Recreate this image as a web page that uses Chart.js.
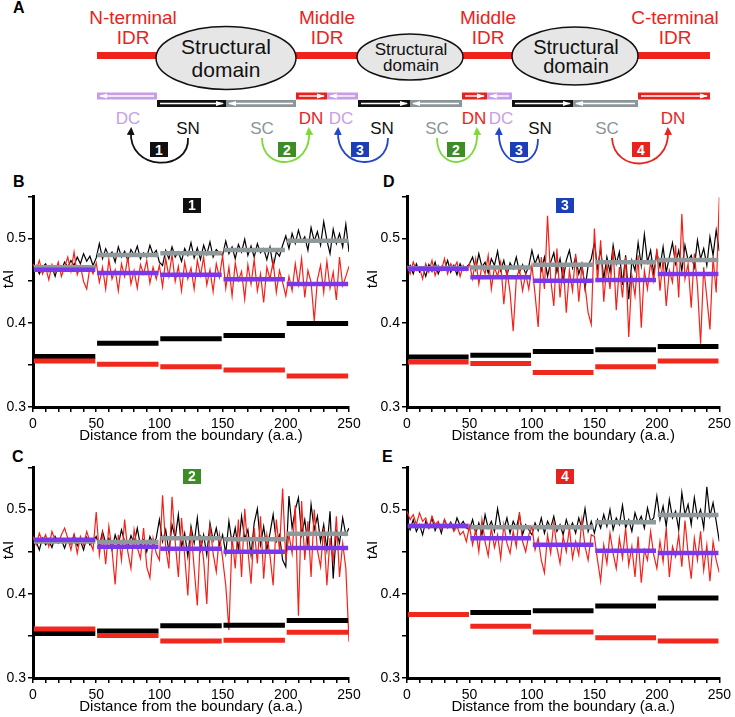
<!DOCTYPE html>
<html>
<head>
<meta charset="utf-8">
<script src="https://cdn.jsdelivr.net/npm/chart.js@4.4.1/dist/chart.umd.min.js"></script>
<style>
body{margin:0;background:#fff;width:735px;height:717px;position:relative;overflow:hidden;font-family:'Liberation Sans',Arial,sans-serif}
.box{position:absolute}
.lbl{position:absolute;font-weight:bold;font-size:16px;line-height:16px}
.badge{position:absolute;width:18px;height:15px;color:#fff;font-weight:bold;font-size:14px;line-height:15px;text-align:center}
.tai{position:absolute;width:30px;height:16px;font-size:15px;line-height:16px;text-align:center;transform:rotate(-90deg)}
svg text{font-family:'Liberation Sans',Arial,sans-serif}
</style>
</head>
<body>
<svg class="box" style="left:0;top:0" width="735" height="180" id="diagram">
  <defs>
    <marker id="hBlack" markerWidth="8" markerHeight="8" refX="4" refY="4" orient="auto" markerUnits="userSpaceOnUse"><path d="M0,0 L8,4 L0,8 z" fill="#111"/></marker>
    <marker id="hGreen" markerWidth="8" markerHeight="8" refX="4" refY="4" orient="auto" markerUnits="userSpaceOnUse"><path d="M0,0 L8,4 L0,8 z" fill="#7fd83c"/></marker>
    <marker id="hBlue" markerWidth="8" markerHeight="8" refX="4" refY="4" orient="auto" markerUnits="userSpaceOnUse"><path d="M0,0 L8,4 L0,8 z" fill="#2446c8"/></marker>
    <marker id="hRed" markerWidth="8" markerHeight="8" refX="4" refY="4" orient="auto" markerUnits="userSpaceOnUse"><path d="M0,0 L8,4 L0,8 z" fill="#e8231d"/></marker>
  </defs>
  <rect x="97" y="52" width="613" height="7" fill="#f0231c"/>
  <ellipse cx="226" cy="58" rx="70" ry="31.5" fill="#e6e6e6" stroke="#111" stroke-width="1.5"/>
  <ellipse cx="410" cy="57" rx="53" ry="23" fill="#e6e6e6" stroke="#111" stroke-width="1.5"/>
  <ellipse cx="575" cy="56" rx="63" ry="29" fill="#e6e6e6" stroke="#111" stroke-width="1.5"/>
  <g fill="#e8231d" font-size="19" text-anchor="middle">
    <text x="133" y="24">N-terminal</text><text x="133" y="44">IDR</text>
    <text x="327" y="24">Middle</text><text x="327" y="44">IDR</text>
    <text x="488" y="24">Middle</text><text x="488" y="44">IDR</text>
    <text x="675" y="24">C-terminal</text><text x="675" y="44">IDR</text>
  </g>
  <g fill="#111" text-anchor="middle">
    <text x="226" y="54" font-size="21">Structural</text><text x="226" y="77" font-size="21">domain</text>
    <text x="411" y="55" font-size="17">Structural</text><text x="411" y="71" font-size="17">domain</text>
    <text x="576" y="54" font-size="20">Structural</text><text x="576" y="73" font-size="20">domain</text>
  </g>
  <g id="segs"></g>
  <g font-size="17" text-anchor="middle">
    <text x="128" y="124" fill="#c89ee6">DC</text>
    <text x="188" y="134" fill="#111">SN</text>
    <text x="262" y="134" fill="#8c9598">SC</text>
    <text x="311" y="124" fill="#e8231d">DN</text>
    <text x="341" y="124" fill="#c89ee6">DC</text>
    <text x="382" y="134" fill="#111">SN</text>
    <text x="437" y="134" fill="#8c9598">SC</text>
    <text x="474" y="124" fill="#e8231d">DN</text>
    <text x="501" y="124" fill="#c89ee6">DC</text>
    <text x="540" y="134" fill="#111">SN</text>
    <text x="607" y="134" fill="#8c9598">SC</text>
    <text x="673" y="124" fill="#e8231d">DN</text>
  </g>
  <g fill="none" stroke-width="1.8">
    <path d="M188,138 C190,172 128,172 131,131" stroke="#111" marker-end="url(#hBlack)"/>
    <path d="M262,138 C262,172 312,170 309,131" stroke="#7fd83c" marker-end="url(#hGreen)"/>
    <path d="M388,138 C388,172 336,170 338,131" stroke="#2446c8" marker-end="url(#hBlue)"/>
    <path d="M437,138 C437,172 480,170 477,131" stroke="#7fd83c" marker-end="url(#hGreen)"/>
    <path d="M538,139 C538,172 497,170 499,131" stroke="#2446c8" marker-end="url(#hBlue)"/>
    <path d="M612,138 C614,174 670,172 668,131" stroke="#e8231d" marker-end="url(#hRed)"/>
  </g>
  <g font-size="14" font-weight="bold" fill="#fff" text-anchor="middle">
    <rect x="150" y="142" width="18" height="15" fill="#111"/><text x="159" y="155">1</text>
    <rect x="278" y="142" width="18" height="15" fill="#3d8c26"/><text x="287" y="155">2</text>
    <rect x="351" y="142" width="18" height="15" fill="#1c3fb8"/><text x="360" y="155">3</text>
    <rect x="447" y="142" width="18" height="15" fill="#3d8c26"/><text x="456" y="155">2</text>
    <rect x="510" y="142" width="18" height="15" fill="#1c3fb8"/><text x="519" y="155">3</text>
    <rect x="632" y="142" width="18" height="15" fill="#e8231d"/><text x="641" y="155">4</text>
  </g>
</svg>

<div class="lbl" style="left:13px;top:0px">A</div>
<div class="lbl" style="left:13px;top:174px">B</div>
<div class="lbl" style="left:383px;top:174px">D</div>
<div class="lbl" style="left:12px;top:449px">C</div>
<div class="lbl" style="left:382px;top:449px">E</div>

<div class="box" style="left:0;top:186px"><canvas id="chartB" width="365" height="259"></canvas></div>
<div class="box" style="left:374px;top:186px"><canvas id="chartD" width="361" height="259"></canvas></div>
<div class="box" style="left:0;top:457px"><canvas id="chartC" width="365" height="259"></canvas></div>
<div class="box" style="left:374px;top:457px"><canvas id="chartE" width="361" height="259"></canvas></div>

<div class="tai" style="left:-7px;top:271px">tAI</div>
<div class="tai" style="left:357px;top:271px">tAI</div>
<div class="tai" style="left:-7px;top:542px">tAI</div>
<div class="tai" style="left:357px;top:542px">tAI</div>

<div class="badge" style="left:183px;top:198px;background:#111">1</div>
<div class="badge" style="left:556px;top:198px;background:#1c3fb8">3</div>
<div class="badge" style="left:183px;top:469px;background:#3d8c26">2</div>
<div class="badge" style="left:556px;top:469px;background:#e8231d">4</div>

<script>
// sample positions along the sequence (a.a.) and the 50 a.a. windows
const distance = Array.from({length: 101}, (_, i) => i * 2.5);
const windowStart = [0, 50, 100, 150, 200];

// panel B (type 1)
const bBlack = [
0.462,0.468,0.458,0.466,0.470,0.461,0.467,0.455,0.469,0.463,0.472,0.466,0.474,0.468,0.478,0.470,0.482,0.473,0.479,0.468,
0.477,0.494,0.476,0.488,0.479,0.484,0.472,0.490,0.478,0.485,0.474,0.487,0.480,0.491,0.476,0.483,0.478,0.492,0.481,0.486,
0.472,0.468,0.486,0.476,0.490,0.478,0.484,0.473,0.488,0.480,0.495,0.477,0.489,0.475,0.492,0.481,0.496,0.478,0.487,0.483,
0.480,0.497,0.482,0.490,0.476,0.493,0.484,0.499,0.480,0.491,0.478,0.494,0.483,0.488,0.475,0.490,0.466,0.484,0.479,0.492,
0.503,0.488,0.506,0.494,0.510,0.496,0.502,0.486,0.513,0.497,0.508,0.492,0.520,0.498,0.482,0.511,0.494,0.506,0.490,0.517,
0.484];
const bRed = [
0.470,0.462,0.474,0.458,0.466,0.451,0.469,0.460,0.472,0.455,0.466,0.478,0.461,0.484,0.457,0.468,0.449,0.440,0.466,0.458,
0.471,0.448,0.466,0.440,0.475,0.452,0.463,0.438,0.470,0.455,0.478,0.446,0.462,0.441,0.469,0.458,0.474,0.447,0.466,0.452,
0.468,0.443,0.476,0.455,0.481,0.449,0.467,0.438,0.472,0.452,0.465,0.440,0.474,0.456,0.478,0.445,0.463,0.437,0.470,0.454,
0.480,0.441,0.466,0.432,0.471,0.450,0.461,0.428,0.469,0.446,0.475,0.438,0.458,0.424,0.466,0.452,0.473,0.436,0.462,0.448,
0.432,0.455,0.438,0.470,0.445,0.476,0.430,0.462,0.448,0.402,0.451,0.468,0.436,0.473,0.441,0.460,0.427,0.478,0.444,0.455,
0.467];
const bGray = [0.466, 0.4805, 0.4824, 0.4863, 0.4973];
const bPurple = [0.463, 0.459, 0.457, 0.4516, 0.446];
const bBlackBars = [0.360, 0.3758, 0.381, 0.385, 0.399];
const bRedBars = [0.3547, 0.3508, 0.3477, 0.3438, 0.3367];

// panel D (type 3)
const dBlack = [
0.462,0.468,0.458,0.470,0.460,0.466,0.455,0.469,0.461,0.472,0.458,0.467,0.463,0.474,0.460,0.468,0.457,0.470,0.462,0.466,
0.470,0.478,0.463,0.482,0.466,0.472,0.459,0.476,0.468,0.485,0.462,0.474,0.456,0.471,0.464,0.478,0.460,0.469,0.458,0.467,
0.486,0.470,0.480,0.462,0.478,0.455,0.472,0.483,0.460,0.476,0.450,0.474,0.486,0.465,0.478,0.458,0.470,0.440,0.468,0.476,
0.495,0.465,0.488,0.452,0.478,0.460,0.492,0.470,0.484,0.445,0.480,0.428,0.474,0.462,0.495,0.468,0.505,0.472,0.486,0.458,
0.484,0.466,0.490,0.460,0.478,0.495,0.470,0.486,0.462,0.492,0.474,0.480,0.466,0.498,0.476,0.488,0.468,0.502,0.480,0.510,
0.485];
const dRed = [
0.468,0.458,0.472,0.462,0.466,0.452,0.470,0.460,0.474,0.456,0.468,0.462,0.476,0.458,0.470,0.464,0.472,0.455,0.468,0.462,
0.470,0.452,0.476,0.446,0.468,0.458,0.480,0.440,0.466,0.455,0.472,0.422,0.462,0.436,0.390,0.452,0.464,0.438,0.458,0.440,
0.468,0.434,0.395,0.478,0.440,0.527,0.452,0.420,0.488,0.430,0.470,0.412,0.462,0.438,0.482,0.425,0.468,0.444,0.412,0.398,
0.512,0.448,0.498,0.425,0.470,0.440,0.488,0.415,0.466,0.430,0.478,0.383,0.456,0.432,0.480,0.394,0.462,0.440,0.472,0.450,
0.488,0.438,0.476,0.420,0.462,0.448,0.492,0.430,0.529,0.452,0.470,0.418,0.482,0.444,0.375,0.466,0.430,0.392,0.478,0.436,
0.549];
const dGray = [0.4648, 0.4656, 0.4688, 0.4719, 0.4746];
const dPurple = [0.464, 0.4539, 0.450, 0.4508, 0.4578];
const dBlackBars = [0.3594, 0.3613, 0.366, 0.368, 0.3719];
const dRedBars = [0.3535, 0.3516, 0.341, 0.3477, 0.3547];

// panel C (type 2)
const cBlack = [
0.456,0.462,0.452,0.466,0.458,0.463,0.455,0.468,0.460,0.464,0.454,0.466,0.459,0.470,0.457,0.463,0.452,0.467,0.458,0.462,
0.468,0.456,0.474,0.460,0.466,0.452,0.470,0.458,0.476,0.462,0.455,0.469,0.460,0.478,0.457,0.464,0.450,0.468,0.459,0.466,
0.488,0.462,0.476,0.450,0.482,0.466,0.494,0.455,0.472,0.444,0.480,0.460,0.490,0.452,0.470,0.446,0.484,0.463,0.478,0.458,
0.470,0.448,0.486,0.460,0.478,0.452,0.492,0.465,0.476,0.446,0.484,0.501,0.458,0.480,0.452,0.472,0.494,0.462,0.470,0.440,
0.432,0.516,0.478,0.500,0.514,0.470,0.488,0.458,0.506,0.476,0.492,0.462,0.482,0.452,0.498,0.418,0.474,0.460,0.490,0.470,
0.478];
const cRed = [
0.468,0.458,0.472,0.462,0.470,0.456,0.474,0.464,0.460,0.470,0.478,0.466,0.452,0.470,0.448,0.468,0.458,0.474,0.462,0.452,
0.497,0.446,0.472,0.435,0.480,0.452,0.411,0.470,0.440,0.488,0.450,0.430,0.476,0.455,0.442,0.478,0.432,0.419,0.466,0.448,
0.440,0.517,0.455,0.430,0.515,0.462,0.420,0.490,0.445,0.398,0.478,0.430,0.386,0.470,0.440,0.388,0.482,0.448,0.426,0.470,
0.442,0.410,0.357,0.468,0.430,0.488,0.420,0.501,0.452,0.412,0.478,0.436,0.492,0.418,0.470,0.445,0.410,0.488,0.452,0.525,
0.440,0.470,0.448,0.505,0.374,0.510,0.440,0.486,0.420,0.500,0.452,0.432,0.478,0.410,0.466,0.438,0.492,0.420,0.460,0.430,
0.343];
const cGray = [0.462, 0.4613, 0.466, 0.4648, 0.4711];
const cPurple = [0.464, 0.4559, 0.4535, 0.450, 0.4543];
const cBlackBars = [0.3527, 0.3559, 0.3621, 0.3625, 0.3684];
const cRedBars = [0.3582, 0.3504, 0.3438, 0.3449, 0.3543];

// panel E (type 4)
const eBlack = [
0.484,0.476,0.488,0.474,0.482,0.470,0.486,0.478,0.490,0.475,0.484,0.472,0.488,0.479,0.485,0.476,0.490,0.481,0.486,0.478,
0.476,0.488,0.472,0.484,0.470,0.494,0.478,0.486,0.474,0.501,0.480,0.476,0.490,0.472,0.486,0.478,0.494,0.470,0.482,0.476,
0.470,0.484,0.475,0.490,0.472,0.486,0.478,0.492,0.474,0.482,0.470,0.488,0.476,0.484,0.472,0.490,0.478,0.501,0.474,0.486,
0.472,0.488,0.478,0.494,0.480,0.500,0.476,0.490,0.482,0.505,0.478,0.488,0.474,0.496,0.484,0.492,0.478,0.502,0.486,0.490,
0.516,0.488,0.504,0.480,0.512,0.490,0.498,0.476,0.520,0.494,0.506,0.482,0.514,0.490,0.500,0.478,0.527,0.492,0.508,0.486,
0.462];
const eRed = [
0.498,0.488,0.494,0.482,0.496,0.486,0.490,0.478,0.492,0.482,0.486,0.476,0.488,0.478,0.484,0.474,0.480,0.470,0.474,0.462,
0.480,0.458,0.476,0.450,0.488,0.462,0.445,0.478,0.455,0.470,0.442,0.482,0.460,0.448,0.474,0.456,0.497,0.462,0.450,0.470,
0.480,0.452,0.466,0.440,0.425,0.470,0.448,0.484,0.455,0.436,0.468,0.450,0.478,0.442,0.462,0.446,0.488,0.456,0.440,0.470,
0.468,0.440,0.415,0.458,0.436,0.472,0.448,0.430,0.466,0.442,0.478,0.434,0.456,0.420,0.468,0.413,0.452,0.440,0.474,0.446,
0.430,0.462,0.438,0.478,0.420,0.456,0.444,0.470,0.432,0.487,0.448,0.418,0.466,0.440,0.474,0.428,0.458,0.415,0.462,0.440,
0.425];
const eGray = [0.4805, 0.4789, 0.4789, 0.4848, 0.4934];
const ePurple = [0.4805, 0.466, 0.4582, 0.4512, 0.4484];
const eBlackBars = [0.3754, 0.3777, 0.3797, 0.3855, 0.3949];
const eRedBars = [0.3754, 0.3613, 0.3547, 0.3477, 0.3438];

// schematic segments under the protein (diagram only)
const segs = [
  [97, 157, 96, '#c89ee6', -1], [157, 226, 103.5, '#111', 1], [226, 296, 103.5, '#8c9598', -1],
  [296, 327, 96, '#e8231d', 1], [327, 358, 96, '#c89ee6', -1], [358, 410, 103.5, '#111', 1],
  [410, 462, 103.5, '#8c9598', -1], [462, 487, 96, '#e8231d', 1], [487, 512, 96, '#c89ee6', -1],
  [512, 573, 103.5, '#111', 1], [573, 638, 103.5, '#8c9598', -1], [638, 710, 96, '#e8231d', 1]
];
const ns = 'http://www.w3.org/2000/svg';
const g = document.getElementById('segs');
segs.forEach(([x1, x2, cy, col, dir]) => {
  const r = document.createElementNS(ns, 'rect');
  r.setAttribute('x', x1); r.setAttribute('y', cy - 3.5); r.setAttribute('width', x2 - x1); r.setAttribute('height', 7); r.setAttribute('fill', col);
  g.appendChild(r);
  const l = document.createElementNS(ns, 'line');
  l.setAttribute('x1', x1 + 3); l.setAttribute('x2', x2 - 3); l.setAttribute('y1', cy); l.setAttribute('y2', cy);
  l.setAttribute('stroke', '#fff'); l.setAttribute('stroke-width', 1.4);
  g.appendChild(l);
  const tip = dir > 0 ? x2 - 2 : x1 + 2;
  const back = tip - dir * 8;
  const p = document.createElementNS(ns, 'polygon');
  p.setAttribute('points', `${tip},${cy} ${back},${cy - 2.6} ${back},${cy + 2.6}`);
  p.setAttribute('fill', '#fff');
  g.appendChild(p);
});

function series(vals) {
  return distance.map((x, i) => ({x, y: vals[i]}));
}
function steps(vals) {
  const pts = [];
  vals.forEach((v, i) => {
    pts.push({x: windowStart[i] + 0.7, y: v}, {x: windowStart[i] + 49.3, y: v}, {x: windowStart[i] + 50, y: null});
  });
  return pts;
}

const font = "'Liberation Sans', Arial, sans-serif";

function makePanel(id, black, red, gray, purple, blackBars, redBars, padRight) {
  new Chart(document.getElementById(id), {
    type: 'line',
    data: {
      datasets: [
        {data: steps(redBars), borderColor: '#f2281e', borderWidth: 5},
        {data: steps(blackBars), borderColor: '#000', borderWidth: 5},
        {data: steps(purple), borderColor: '#7b38ea', borderWidth: 4.5},
        {data: steps(gray), borderColor: '#8f999c', borderWidth: 4.5},
        {data: series(red), borderColor: '#f5201a', borderWidth: 1.2},
        {data: series(black), borderColor: '#000', borderWidth: 1.2}
      ]
    },
    options: {
      responsive: false,
      animation: false,
      spanGaps: false,
      elements: {point: {radius: 0}, line: {tension: 0, borderCapStyle: 'butt'}},
      layout: {padding: {top: 0, right: padRight, left: 0, bottom: 0}},
      plugins: {legend: {display: false}, tooltip: {enabled: false}},
      scales: {
        x: {
          type: 'linear', min: 0, max: 250,
          border: {color: '#000', width: 3},
          grid: {drawOnChartArea: false, color: '#000', lineWidth: 1.5, tickLength: 5},
          ticks: {stepSize: 10, autoSkip: false, maxRotation: 0, padding: 4, color: '#000',
                  font: {family: font, size: 14},
                  callback: v => (v % 50 === 0 ? String(v) : '')},
          title: {display: true, text: 'Distance from the boundary (a.a.)', color: '#000',
                  font: {family: font, size: 15}, padding: 0},
          afterFit: s => { s.height = 38; }
        },
        y: {
          min: 0.3, max: 0.55,
          border: {color: '#000', width: 3},
          grid: {drawOnChartArea: false, color: '#000', lineWidth: 1.5, tickLength: 5},
          ticks: {stepSize: 0.05, padding: 2, color: '#000', font: {family: font, size: 14},
                  callback: v => { const r = Math.round(v * 100); return r % 10 === 0 ? (r / 100).toFixed(1) : ''; }},
          afterFit: s => { s.width = 33; }
        }
      }
    }
  });
}

makePanel('chartB', bBlack, bRed, bGray, bPurple, bBlackBars, bRedBars, 16);
makePanel('chartD', dBlack, dRed, dGray, dPurple, dBlackBars, dRedBars, 14);
makePanel('chartC', cBlack, cRed, cGray, cPurple, cBlackBars, cRedBars, 16);
makePanel('chartE', eBlack, eRed, eGray, ePurple, eBlackBars, eRedBars, 14);
</script>
</body>
</html>
